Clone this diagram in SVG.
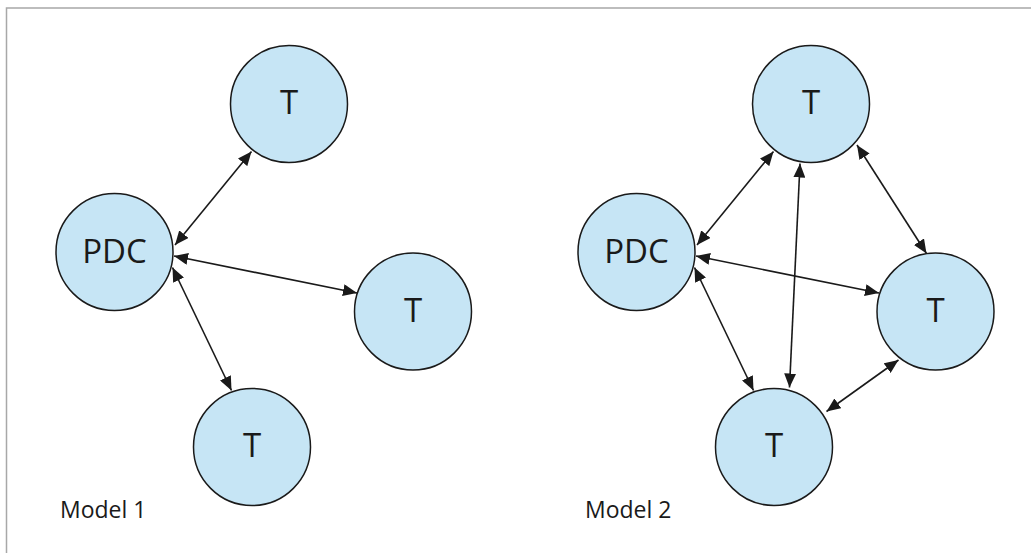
<svg xmlns="http://www.w3.org/2000/svg" width="1031" height="553" viewBox="0 0 1031 553">
  <style>
    .frame { fill: none; stroke: #a8a8a8; stroke-width: 1.5; }
    .node circle { fill: #c6e5f5; stroke: #1a1a1a; stroke-width: 1.5; }
    .node text { font-family: "Open Sans", "Noto Sans", "Liberation Sans", sans-serif; font-size: 33px; fill: #1a1a1a; text-anchor: middle; }
    .caption { font-family: "Open Sans", "Noto Sans", "Liberation Sans", sans-serif; font-size: 23px; fill: #1a1a1a; }
    .edge { fill: none; stroke: #1a1a1a; stroke-width: 1.6; marker-start: url(#head); marker-end: url(#head); }
  </style>
  <defs>
    <marker id="head" viewBox="0 0 14 12" refX="14" refY="6" markerWidth="14" markerHeight="12" markerUnits="userSpaceOnUse" orient="auto-start-reverse">
      <path d="M0,0 L14,6 L0,12 z" fill="#1a1a1a"/>
    </marker>
  </defs>

  <rect width="1031" height="553" fill="#ffffff"/>
  <path class="frame" d="M6.5,553 V8 H1031"/>

  <!-- Model 1: star around the PDC -->
  <g id="connectors-model1">
    <path class="edge" d="M175,245 L251.5,151.5"/>
    <path class="edge" d="M174,256 L357,293"/>
    <path class="edge" d="M172.5,267.5 L231.5,390.5"/>
  </g>
  <g id="m1-pdc" class="node"><circle cx="114.5" cy="252" r="58.5"/><text x="114.5" y="263">PDC</text></g>
  <g id="m1-t-top" class="node"><circle cx="289" cy="104" r="58.5"/><text x="289" y="114">T</text></g>
  <g id="m1-t-right" class="node"><circle cx="413" cy="311.5" r="58.5"/><text x="413" y="322">T</text></g>
  <g id="m1-t-bottom" class="node"><circle cx="252" cy="447" r="58.5"/><text x="252" y="457">T</text></g>
  <text id="label-model1" class="caption" x="60" y="518">Model 1</text>

  <!-- Model 2: full mesh -->
  <g id="connectors-model2">
    <path class="edge" d="M697,245 L773.5,151.5"/>
    <path class="edge" d="M696,256 L879,293"/>
    <path class="edge" d="M694.5,267.5 L753.5,390.5"/>
    <path class="edge" d="M800,163.5 L789.5,387.5"/>
    <path class="edge" d="M857,145 L926.5,253.5"/>
    <path class="edge" d="M898.5,360 L826.5,411.5"/>
  </g>
  <g id="m2-pdc" class="node"><circle cx="636.5" cy="252" r="58.5"/><text x="636.5" y="263">PDC</text></g>
  <g id="m2-t-top" class="node"><circle cx="811" cy="104" r="58.5"/><text x="811" y="114">T</text></g>
  <g id="m2-t-right" class="node"><circle cx="935.5" cy="311.5" r="58.5"/><text x="935.5" y="322">T</text></g>
  <g id="m2-t-bottom" class="node"><circle cx="774" cy="447" r="58.5"/><text x="774" y="457">T</text></g>
  <text id="label-model2" class="caption" x="585" y="518">Model 2</text>
</svg>
